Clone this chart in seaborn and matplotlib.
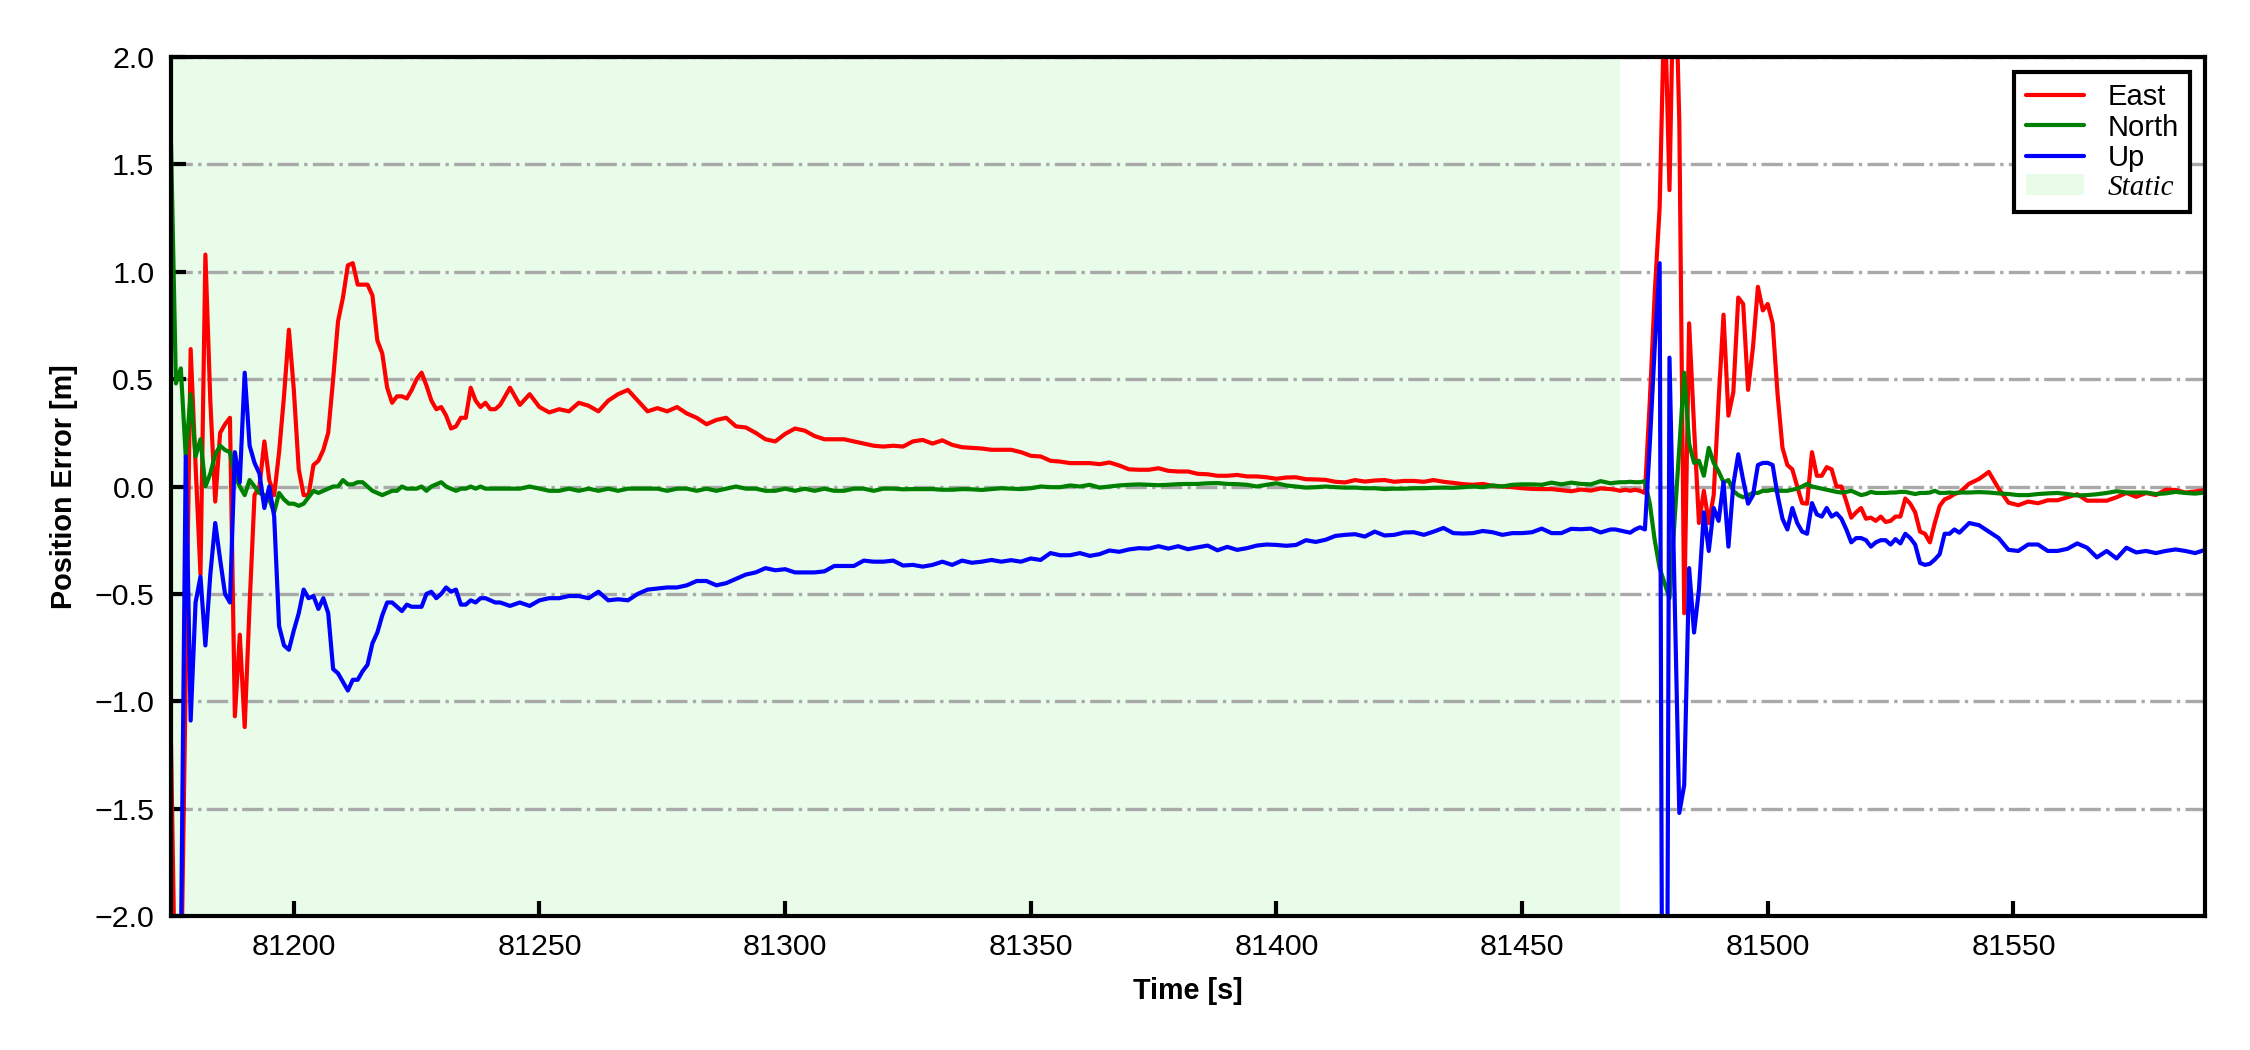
import numpy as np
import pandas as pd
import matplotlib
matplotlib.use("Agg")
import matplotlib.pyplot as plt
from matplotlib.patches import Patch
import seaborn as sns

# --- Data ---
# sample times: 1 s where the solution is jumpy, 2 s where it is smooth
time_s = np.concatenate([
    np.arange(81175, 81243),        # start-up
    np.arange(81244, 81469, 2),     # static convergence
    np.arange(81469, 81540),        # motion onset
    np.arange(81541, 81590, 2),     # tail
])

east_a = [-1.2, -2.6, -2.4, -0.9, 0.64, 0.1, -0.41, 1.08, 0.4, -0.07,
          0.25, 0.29, 0.32, -1.07, -0.69, -1.12, -0.55, -0.04, 0.0, 0.21,
          0.03, -0.04, 0.16, 0.42, 0.73, 0.45, 0.08, -0.04, -0.04, 0.1,
          0.12, 0.17, 0.25, 0.5, 0.77, 0.88, 1.03, 1.04, 0.94, 0.94,
          0.94, 0.89, 0.68, 0.62, 0.46, 0.39, 0.42, 0.42, 0.41, 0.45,
          0.5, 0.53, 0.47, 0.4, 0.36, 0.37, 0.33, 0.27, 0.28, 0.32,
          0.32, 0.46, 0.4, 0.37, 0.39, 0.36, 0.36, 0.38]
east_b = [0.46, 0.38, 0.43, 0.37, 0.345, 0.36, 0.35, 0.39, 0.376, 0.35,
          0.40, 0.43, 0.45, 0.40, 0.35, 0.365, 0.35, 0.37, 0.34, 0.32,
          0.29, 0.31, 0.32, 0.28, 0.275, 0.25, 0.22, 0.21, 0.245, 0.27,
          0.26, 0.235, 0.22, 0.22, 0.22, 0.21, 0.20, 0.19, 0.186, 0.19,
          0.186, 0.21, 0.217, 0.20, 0.215, 0.194, 0.183, 0.18, 0.177, 0.171,
          0.171, 0.171, 0.16, 0.143, 0.14, 0.12, 0.116, 0.109, 0.109, 0.109,
          0.104, 0.112, 0.098, 0.08, 0.078, 0.078, 0.085, 0.073, 0.07, 0.07,
          0.059, 0.057, 0.05, 0.05, 0.054, 0.047, 0.047, 0.043, 0.036, 0.042,
          0.043,
          0.034, 0.033, 0.031, 0.022, 0.019, 0.03, 0.023, 0.028, 0.03, 0.022,
          0.026, 0.026, 0.022, 0.03, 0.022, 0.017, 0.011, 0.008, 0.012, 0.003,
          0.0, -0.003, -0.008, -0.011, -0.012, -0.012, -0.017, -0.022, -0.014, -0.019,
          -0.009, -0.012]
east_c = [-0.015, -0.02, -0.015, -0.02, -0.015, -0.02, -0.03, 0.4, 0.9, 1.3,
          2.3, 1.38, 2.6, 1.7, -0.59, 0.76, 0.28, -0.17, -0.02, -0.17,
          -0.04, 0.4, 0.8, 0.33, 0.44, 0.88, 0.85, 0.45, 0.65, 0.93,
          0.82, 0.85, 0.76, 0.43, 0.18, 0.1, 0.08, 0.0, -0.077, -0.08,
          0.16, 0.05, 0.05, 0.09, 0.08, 0.0, 0.0, -0.07, -0.145, -0.12,
          -0.1, -0.15, -0.145, -0.16, -0.14, -0.165, -0.16, -0.14, -0.14, -0.056,
          -0.08, -0.12, -0.21, -0.22, -0.26, -0.17, -0.09, -0.06, -0.05, -0.035,
          -0.028]
east_d = [0.013, 0.035, 0.068, -0.01, -0.075, -0.087, -0.07, -0.078, -0.064, -0.064,
          -0.05, -0.036, -0.066, -0.066, -0.066, -0.05, -0.03, -0.048, -0.03, -0.04,
          -0.015, -0.016, -0.028, -0.023, -0.016]

north_a = [1.6, 0.48, 0.55, 0.14, 0.43, 0.14, 0.22, 0.0, 0.06, 0.15,
           0.19, 0.17, 0.16, 0.05, 0.0, -0.04, 0.03, 0.0, -0.03, -0.04,
           -0.06, -0.12, -0.03, -0.06, -0.08, -0.08, -0.09, -0.08, -0.05, -0.02,
           -0.03, -0.02, -0.01, 0.0, 0.0, 0.03, 0.01, 0.01, 0.02, 0.02,
           0.0, -0.02, -0.03, -0.04, -0.03, -0.02, -0.02, 0.0, -0.01, -0.01,
           -0.01, 0.0, -0.02, 0.0, 0.01, 0.02, 0.0, -0.01, -0.02, -0.01,
           -0.01, 0.0, -0.01, 0.0, -0.01, -0.01, -0.01, -0.01]
north_b = [-0.01, -0.01, 0.0, -0.01, -0.02, -0.02, -0.01, -0.02, -0.01, -0.02,
           -0.01, -0.02, -0.01, -0.01, -0.01, -0.01, -0.02, -0.01, -0.01, -0.02,
           -0.01, -0.02, -0.01, 0.0, -0.01, -0.01, -0.02, -0.02, -0.01, -0.02,
           -0.01, -0.02, -0.01, -0.02, -0.02, -0.01, -0.01, -0.02, -0.01, -0.01,
           -0.013, -0.012, -0.012, -0.012, -0.015, -0.015, -0.012, -0.013, -0.016, -0.012,
           -0.008, -0.01, -0.012, -0.008, 0.0, -0.003, -0.003, 0.005, 0.0, 0.008,
           -0.005, 0.0, 0.005, 0.008, 0.01, 0.008, 0.006, 0.008, 0.011, 0.012,
           0.012, 0.015, 0.016, 0.012, 0.011, 0.008, 0.0, 0.008, 0.015, 0.005,
           0.0,
           -0.005, -0.003, 0.0, -0.003, -0.005, -0.005, -0.008, -0.008, -0.012, -0.01,
           -0.01, -0.008, -0.008, -0.006, -0.005, -0.006, -0.003, 0.0, -0.003, 0.005,
           0.0, 0.008, 0.01, 0.01, 0.008, 0.018, 0.01, 0.018, 0.012, 0.01,
           0.025, 0.015]
north_c = [0.018, 0.02, 0.02, 0.022, 0.02, 0.02, 0.025, -0.08, -0.25, -0.38,
           -0.45, -0.52, -0.17, 0.18, 0.53, 0.2, 0.11, 0.12, 0.05, 0.18,
           0.11, 0.07, 0.02, 0.03, -0.02, -0.04, -0.05, -0.04, -0.03, -0.03,
           -0.02, -0.02, -0.015, -0.02, -0.02, -0.02, -0.015, -0.01, 0.0, 0.012,
           0.0, -0.005, -0.01, -0.015, -0.02, -0.025, -0.028, -0.025, -0.02, -0.03,
           -0.04, -0.035, -0.025, -0.03, -0.03, -0.03, -0.028, -0.028, -0.025, -0.025,
           -0.03, -0.035, -0.03, -0.03, -0.028, -0.02, -0.03, -0.03, -0.028, -0.03,
           -0.028]
north_d = [-0.028, -0.026, -0.028, -0.032, -0.035, -0.04, -0.04, -0.035, -0.032, -0.03,
           -0.035, -0.042, -0.04, -0.036, -0.03, -0.022, -0.028, -0.028, -0.028, -0.035,
           -0.032, -0.025, -0.03, -0.033, -0.028]

up_a = [-2.6, -2.6, -2.2, 0.14, -1.09, -0.54, -0.42, -0.74, -0.41, -0.17,
        -0.34, -0.5, -0.54, 0.16, 0.02, 0.53, 0.19, 0.11, 0.06, -0.1,
        0.0, -0.14, -0.65, -0.74, -0.76, -0.67, -0.59, -0.48, -0.52, -0.51,
        -0.57, -0.52, -0.59, -0.85, -0.87, -0.91, -0.95, -0.9, -0.9, -0.86,
        -0.83, -0.73, -0.68, -0.6, -0.54, -0.54, -0.56, -0.58, -0.55, -0.56,
        -0.56, -0.56, -0.5, -0.49, -0.52, -0.5, -0.47, -0.49, -0.48, -0.55,
        -0.55, -0.53, -0.54, -0.52, -0.52, -0.53, -0.54, -0.54]
up_b = [-0.556, -0.54, -0.556, -0.53, -0.52, -0.52, -0.51, -0.51, -0.52, -0.49,
        -0.53, -0.525, -0.53, -0.50, -0.48, -0.475, -0.47, -0.47, -0.46, -0.44,
        -0.44, -0.46, -0.45, -0.43, -0.41, -0.40, -0.38, -0.39, -0.385, -0.40,
        -0.40, -0.40, -0.395, -0.37, -0.37, -0.37, -0.345, -0.35, -0.35, -0.345,
        -0.368, -0.365, -0.373, -0.365, -0.35, -0.365, -0.345, -0.355, -0.35, -0.342,
        -0.35, -0.343, -0.35, -0.335, -0.342, -0.31, -0.32, -0.32, -0.31, -0.323,
        -0.315, -0.298, -0.304, -0.293, -0.287, -0.289, -0.278, -0.289, -0.278, -0.292,
        -0.283, -0.275, -0.297, -0.281, -0.295, -0.287, -0.275, -0.27, -0.272, -0.276,
        -0.272,
        -0.25, -0.258, -0.248, -0.23, -0.225, -0.222, -0.233, -0.21, -0.228, -0.225,
        -0.214, -0.213, -0.225, -0.21, -0.193, -0.217, -0.219, -0.217, -0.207, -0.213,
        -0.225, -0.217, -0.217, -0.213, -0.196, -0.217, -0.217, -0.197, -0.199, -0.196,
        -0.214, -0.2]
up_c = [-0.2, -0.205, -0.21, -0.215, -0.2, -0.19, -0.2, 0.2, 0.65, 1.04,
        -6.0, 0.6, -0.45, -1.52, -1.39, -0.38, -0.68, -0.48, -0.12, -0.3,
        -0.1, -0.16, 0.02, -0.28, 0.01, 0.15, 0.03, -0.08, -0.04, 0.1,
        0.11, 0.11, 0.1, -0.04, -0.15, -0.2, -0.1, -0.17, -0.21, -0.22,
        -0.077, -0.13, -0.14, -0.1, -0.14, -0.125, -0.15, -0.2, -0.26, -0.24,
        -0.24, -0.25, -0.28, -0.26, -0.25, -0.25, -0.27, -0.245, -0.265, -0.22,
        -0.24, -0.27, -0.356, -0.365, -0.36, -0.34, -0.315, -0.22, -0.22, -0.2,
        -0.215]
up_d = [-0.17, -0.18, -0.21, -0.24, -0.295, -0.3, -0.27, -0.27, -0.3, -0.3,
        -0.29, -0.265, -0.285, -0.33, -0.3, -0.335, -0.285, -0.307, -0.3, -0.31,
        -0.3, -0.293, -0.3, -0.31, -0.295]

STATIC_START, STATIC_END = 81175, 81470
COMPONENTS = ["East", "North", "Up"]
COLORS = {"East": "red", "North": "green", "Up": "blue"}
STATIC_COLOR = "#e9fce9"

# --- Build a long table for seaborn ---
wide = pd.DataFrame({
    "Time": time_s,
    "East": east_a + east_b + east_c + east_d,
    "North": north_a + north_b + north_c + north_d,
    "Up": up_a + up_b + up_c + up_d,
})
long_df = wide.melt(id_vars="Time", value_vars=COMPONENTS,
                    var_name="Component", value_name="Error")

# --- Style ---
sns.set_style("ticks", {"axes.edgecolor": "black", "text.color": "black",
                        "axes.labelcolor": "black", "xtick.color": "black",
                        "ytick.color": "black"})
plt.rcParams["font.family"] = ["Liberation Sans", "DejaVu Sans"]
plt.rcParams["axes.linewidth"] = 1.0

fig, ax = plt.subplots(figsize=(7.5, 3.5), dpi=300)
fig.subplots_adjust(left=0.076, right=0.98, bottom=0.1276, top=0.9457)

ax.axvspan(STATIC_START, STATIC_END, color=STATIC_COLOR, lw=0, zorder=0)

sns.lineplot(data=long_df, x="Time", y="Error", hue="Component",
             hue_order=COMPONENTS, palette=COLORS, estimator=None,
             linewidth=1.0, legend=False, ax=ax)

ax.set_xlim(81175, 81589)
ax.set_ylim(-2, 2)
ax.set_xticks(np.arange(81200, 81551, 50))
ax.set_yticks(np.arange(-2, 2.01, 0.5))
ax.ticklabel_format(axis="x", useOffset=False, style="plain")
ax.yaxis.grid(True, linestyle="-.", color="#a9a9a9", linewidth=0.8)
ax.xaxis.grid(False)

ax.tick_params(direction="in", length=3.5, width=1.0, labelsize=7.3,
               pad=4, colors="black")
for sp in ax.spines.values():
    sp.set_visible(True)
    sp.set_color("black")
    sp.set_linewidth(1.0)

ax.set_xlabel("Time [s]", fontsize=6.9, fontweight="bold", color="black")
ax.set_ylabel("Position Error [m]", fontsize=6.9, fontweight="bold", color="black")

handles = list(ax.lines[:3]) + [Patch(facecolor=STATIC_COLOR, edgecolor="none")]
leg = ax.legend(handles, COMPONENTS + ["Static"], loc="upper right",
                fontsize=7, frameon=True, fancybox=False, framealpha=1,
                edgecolor="black", labelspacing=0.08, labelcolor="black")
leg.get_frame().set_linewidth(1.0)
static_txt = leg.get_texts()[3]
static_txt.set_fontfamily(["Liberation Serif", "DejaVu Serif"])
static_txt.set_fontstyle("italic")

fig.savefig("out.png", dpi=300)
